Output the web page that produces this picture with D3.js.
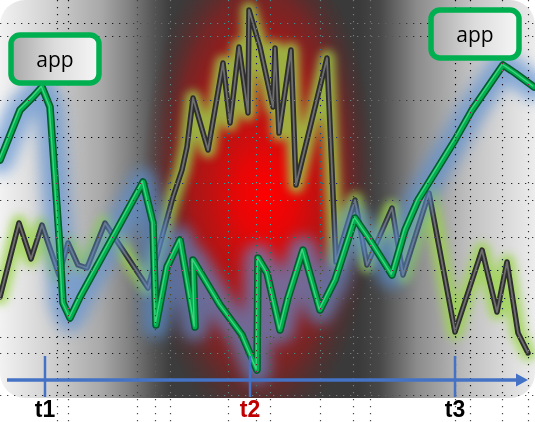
<!DOCTYPE html>
<html lang="en">
<head>
<meta charset="utf-8">
<style>
  body { margin: 0; background: #fff; }
  svg { display: block; }
  .grid line { stroke: #b4b4b4; stroke-width: 1.2; stroke-dasharray: 1.3 5.7; mix-blend-mode: difference; }
  .callout text { font-family: "Open Sans", sans-serif; font-size: 21px; fill: #000; text-anchor: middle; }
  .tick-label { font-family: "Liberation Sans", Arial, sans-serif; font-weight: bold; font-size: 23px; text-anchor: middle; }
</style>
</head>
<body>
<svg width="535" height="422"></svg>
<script src="https://cdn.jsdelivr.net/npm/d3@7"></script>
<script>
// grey series (time, value)
var greyTime  = [0, 19, 31, 42, 59, 68, 78, 87, 105, 148, 173, 182, 187, 193, 208, 223, 230, 239, 248, 249, 260, 273, 275, 279, 291, 296, 327, 336, 355, 367, 392, 403, 429, 455, 482, 497, 507, 518, 528];
var greyValue = [103, 177, 141, 175, 125, 157, 135, 132, 177, 112, 203, 230, 253, 302, 250, 337, 277, 353, 287, 390, 353, 293, 352, 267, 350, 215, 342, 138, 200, 135, 192, 125, 207, 68, 150, 88, 138, 67, 47];

// green series (time, value)
var greenTime  = [0, 20, 33, 42, 50, 60, 63, 70, 80, 143, 153, 156, 167, 180, 195, 193, 220, 242, 257, 258, 267, 280, 288, 303, 320, 335, 355, 370, 392, 405, 418, 455, 472, 503, 515, 534];
var greenValue = [240, 290, 303, 313, 293, 150, 97, 82, 103, 218, 177, 75, 133, 160, 73, 140, 95, 65, 30, 142, 127, 70, 102, 150, 90, 120, 182, 160, 125, 170, 200, 260, 290, 335, 327, 313];

var tickTimes  = [45, 250, 455];
var tickLabels = ["t1", "t2", "t3"];
var tickColors = ["#000", "#c00000", "#000"];

var calloutLabels = ["app", "app"];
var calloutTime   = [55, 475];
var calloutValue  = [341, 366];

var gridTimes  = [57, 68, 137, 155, 170, 228, 256, 270, 320, 353, 370, 455, 470, 502, 528];
var gridValues = [377, 364, 300, 263, 217, 200, 163, 130, 102, 63, 47, 5];

var axisValue = 20;

var svg = d3.select("svg"),
    width = +svg.attr("width"),
    panelH = 398;

var x = d3.scaleLinear().domain([0, 535]).range([0, 535]);
var y = d3.scaleLinear().domain([0, 400]).range([400, 0]);

var defs = svg.append("defs");

var bg = defs.append("linearGradient").attr("id", "bgGrad").attr("x1", 0).attr("x2", 1).attr("y1", 0).attr("y2", 0);
[[0, "#f2f2f2"], [0.09, "#d2d2d2"], [0.19, "#a8a8a8"], [0.24, "#828282"], [0.29, "#525252"], [0.32, "#3c3c3c"],
 [0.67, "#3a3a3a"], [0.71, "#484848"], [0.78, "#8c8c8c"], [0.88, "#c2c2c2"], [0.97, "#e2e2e2"], [1, "#ececec"]]
  .forEach(function (s) { bg.append("stop").attr("offset", s[0]).attr("stop-color", s[1]); });

// broad dull red field
var red = defs.append("radialGradient").attr("id", "redGrad");
[[0, "#c01212", 1], [0.55, "#a81616", 0.95], [0.75, "#8a1e1e", 0.72], [0.9, "#662424", 0.3], [1, "#502828", 0]]
  .forEach(function (s) { red.append("stop").attr("offset", s[0]).attr("stop-color", s[1]).attr("stop-opacity", s[2]); });

// bright core
var core = defs.append("radialGradient").attr("id", "coreGrad");
[[0, "#ff0000", 1], [0.35, "#f20404", 0.8], [0.7, "#d80c0c", 0.35], [1, "#c01010", 0]]
  .forEach(function (s) { core.append("stop").attr("offset", s[0]).attr("stop-color", s[1]).attr("stop-opacity", s[2]); });

var boxGrad = defs.append("linearGradient").attr("id", "boxGrad").attr("x1", 0).attr("x2", 1);
boxGrad.append("stop").attr("offset", 0).attr("stop-color", "#a8a8a8");
boxGrad.append("stop").attr("offset", 0.5).attr("stop-color", "#dcdcdc");
boxGrad.append("stop").attr("offset", 1).attr("stop-color", "#f6f6f6");

function blur(id, sd) {
  defs.append("filter").attr("id", id)
      .attr("filterUnits", "userSpaceOnUse")
      .attr("x", -60).attr("y", -60).attr("width", 660).attr("height", 540)
    .append("feGaussianBlur").attr("stdDeviation", sd);
}
blur("blurBlue", 7);
blur("blurYellow", 4);

defs.append("clipPath").attr("id", "panelClip")
  .append("rect").attr("x", 0).attr("y", 0).attr("width", width).attr("height", panelH).attr("rx", 25);

var panel = svg.append("g").attr("clip-path", "url(#panelClip)");

panel.append("rect")
    .attr("x", 0).attr("y", 0).attr("width", width).attr("height", panelH)
    .attr("fill", "url(#bgGrad)");

panel.append("ellipse")
    .attr("cx", x(259)).attr("cy", y(215))
    .attr("rx", 118).attr("ry", 255)
    .attr("fill", "url(#redGrad)");

panel.append("ellipse")
    .attr("cx", x(266)).attr("cy", y(203))
    .attr("rx", 85).attr("ry", 115)
    .attr("fill", "url(#coreGrad)");

var line = d3.line()
    .x(function (d) { return x(d[0]); })
    .y(function (d) { return y(d[1]); });

var grey = d3.zip(greyTime, greyValue);
var green = d3.zip(greenTime, greenValue);

// grey line with yellow-green glow
panel.append("path").datum(grey).attr("d", line)
    .attr("fill", "none").attr("stroke", "#9bd44c").attr("stroke-width", 16)
    .attr("stroke-linejoin", "round").attr("stroke-linecap", "round")
    .attr("opacity", 0.8).attr("filter", "url(#blurYellow)");
panel.append("path").datum(grey).attr("d", line)
    .attr("fill", "none").attr("stroke", "#2e2e2e").attr("stroke-width", 5.5)
    .attr("stroke-linejoin", "round").attr("stroke-linecap", "round");
panel.append("path").datum(grey).attr("d", line)
    .attr("fill", "none").attr("stroke", "#6e6e6e").attr("stroke-width", 1.8)
    .attr("stroke-linejoin", "round");

// green line with blue glow
panel.append("path").datum(green).attr("d", line)
    .attr("fill", "none").attr("stroke", "#5b8fd0").attr("stroke-width", 28)
    .attr("stroke-linejoin", "round").attr("stroke-linecap", "round")
    .attr("opacity", 0.68).attr("filter", "url(#blurBlue)");
panel.append("path").datum(green).attr("d", line)
    .attr("fill", "none").attr("stroke", "#005c2a").attr("stroke-width", 7.5)
    .attr("stroke-linejoin", "round").attr("stroke-linecap", "round");
panel.append("path").datum(green).attr("d", line)
    .attr("fill", "none").attr("stroke", "#00b050").attr("stroke-width", 4.5)
    .attr("stroke-linejoin", "round").attr("stroke-linecap", "round");
panel.append("path").datum(green).attr("d", line)
    .attr("fill", "none").attr("stroke", "#5ee396").attr("stroke-width", 1.3)
    .attr("stroke-linejoin", "round").attr("opacity", 0.7)
    .attr("transform", "translate(-0.8,-0.8)");

// dotted grid
var grid = svg.append("g").attr("class", "grid");
grid.selectAll(".gy").data(gridValues).enter().append("line")
    .attr("x1", 0).attr("x2", width)
    .attr("y1", function (d) { return y(d) + 0.5; })
    .attr("y2", function (d) { return y(d) + 0.5; });
grid.selectAll(".gx").data(gridTimes).enter().append("line")
    .attr("y1", 0).attr("y2", 422)
    .attr("x1", function (d) { return x(d) + 0.5; })
    .attr("x2", function (d) { return x(d) + 0.5; });

// time axis with arrow
var axis = svg.append("g");
var ay = y(axisValue);
axis.append("line")
    .attr("x1", x(7)).attr("x2", x(518))
    .attr("y1", ay).attr("y2", ay)
    .attr("stroke", "#4472c4").attr("stroke-width", 3.5);
axis.append("path")
    .attr("d", "M" + x(528) + "," + ay + "L" + x(516) + "," + (ay - 6.5) + "L" + x(516) + "," + (ay + 6.5) + "Z")
    .attr("fill", "#4472c4");
axis.selectAll(".tk").data(tickTimes).enter().append("line")
    .attr("x1", function (d) { return x(d); }).attr("x2", function (d) { return x(d); })
    .attr("y1", ay - 24).attr("y2", panelH - 1)
    .attr("stroke", "#4472c4").attr("stroke-width", 2.5);
axis.selectAll(".tick-label").data(tickTimes).enter().append("text")
    .attr("class", "tick-label")
    .attr("x", function (d) { return x(d); })
    .attr("y", 417)
    .attr("fill", function (d, i) { return tickColors[i]; })
    .text(function (d, i) { return tickLabels[i]; });

// callouts
var callout = svg.selectAll(".callout").data(calloutLabels).enter().append("g")
    .attr("class", "callout")
    .attr("transform", function (d, i) { return "translate(" + x(calloutTime[i]) + "," + y(calloutValue[i]) + ")"; });
callout.append("rect")
    .attr("x", -44).attr("y", -24).attr("width", 88).attr("height", 48).attr("rx", 9)
    .attr("fill", "url(#boxGrad)").attr("stroke", "#00b050").attr("stroke-width", 5.5);
callout.append("text")
    .attr("y", 8)
    .text(function (d) { return d; });
</script>
</body>
</html>
